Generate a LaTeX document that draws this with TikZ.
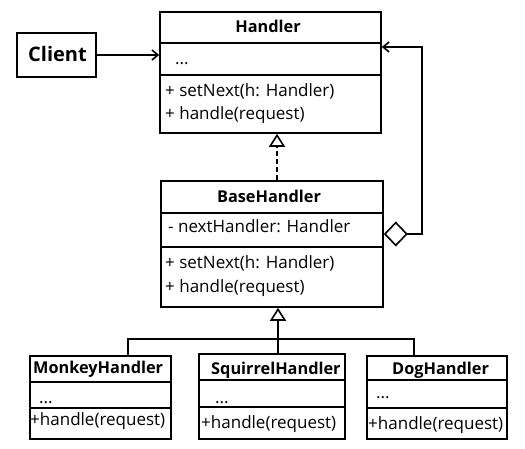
\documentclass[tikz,border=0pt]{standalone}
\usepackage{fontspec}
\setmainfont{Open Sans}
\usetikzlibrary{arrows.meta}
\begin{document}
\begin{tikzpicture}[x=1pt,y=-1pt,
  box/.style={draw, line width=1.6pt, rectangle, inner sep=0pt},
  div/.style={line width=1.6pt},
  conn/.style={line width=1.6pt},
  txt/.style={anchor=base west, inner sep=0pt, font=\fontsize{17}{20}\selectfont},
  ttl/.style={anchor=base, inner sep=0pt, font=\fontsize{16.3}{19}\selectfont\bfseries},
  gen/.style={-{Triangle[open,length=13pt,width=16pt,line width=1.6pt]}}
]
\useasboundingbox (0,0) rectangle (525,449);
% boxes
\node[box, minimum width=79pt, minimum height=44pt] (client) at (56.5,55) {};
\node[box, minimum width=221pt, minimum height=121pt] (handler) at (270.5,72.5) {};
\node[box, minimum width=222pt, minimum height=126pt] (base) at (272,244) {};
\node[box, minimum width=141pt, minimum height=83pt] (monkey) at (100.5,397.5) {};
\node[box, minimum width=146pt, minimum height=85pt] (squirrel) at (272,396.5) {};
\node[box, minimum width=140pt, minimum height=83pt] (dog) at (437,397.5) {};
% dividers
\draw[div] (handler.west |- 0,43) -- (handler.east |- 0,43);
\draw[div] (handler.west |- 0,75) -- (handler.east |- 0,75);
\draw[div] (base.west |- 0,213) -- (base.east |- 0,213);
\draw[div] (base.west |- 0,247) -- (base.east |- 0,247);
\draw[div] (monkey.west |- 0,382) -- (monkey.east |- 0,382);
\draw[div] (monkey.west |- 0,408) -- (monkey.east |- 0,408);
\draw[div] (squirrel.west |- 0,380) -- (squirrel.east |- 0,380);
\draw[div] (squirrel.west |- 0,407) -- (squirrel.east |- 0,407);
\draw[div] (dog.west |- 0,380) -- (dog.east |- 0,380);
\draw[div] (dog.west |- 0,408) -- (dog.east |- 0,408);
% texts
\node[ttl, font=\fontsize{20}{24}\selectfont\bfseries] (tclient) at (57.5,62) {Client};
\node[ttl] (thandler) at (268,33) {Handler};
\node[txt] (h1) at (175,65) {...};
\node[txt] (h2) at (165,97) {+ setNext(h: Handler)};
\node[txt] (h3) at (165,120) {+ handle(request)};
\node[ttl] (tbase) at (269,203) {BaseHandler};
\node[txt] (b1) at (168,233) {- nextHandler: Handler};
\node[txt] (b2) at (165,269) {+ setNext(h: Handler)};
\node[txt] (b3) at (165,292) {+ handle(request)};
\node[ttl, anchor=base west] (tmonkey) at (33,373) {MonkeyHandler};
\node[txt] (m1) at (39,403) {...};
\node[txt] (m2) at (30,425) {+handle(request)};
\node[ttl, anchor=base west] (tsquirrel) at (211,374) {SquirrelHandler};
\node[txt] (s1) at (215,403) {...};
\node[txt] (s2) at (201,428) {+handle(request)};
\node[ttl, anchor=base west] (tdog) at (392,374) {DogHandler};
\node[txt] (d1) at (376,398) {...};
\node[txt] (d2) at (368,429) {+handle(request)};
% connectors
\draw[conn, -{Straight Barb[length=6pt,width=10pt,line width=1.6pt]}] (client.east) -- (handler.west |- client.east);
\draw[conn, {Diamond[open,length=24pt,width=25pt,line width=1.6pt]}-{Straight Barb[length=6pt,width=10pt,line width=1.6pt]}] (base.east |- 0,234) -- (422,234) |- (handler.east |- 0,47);
\draw[conn, dashed, dash pattern=on 5pt off 3pt, gen] (base.north -| 277,0) -- (handler.south -| 277,0);
\coordinate (junc) at (278,339);
\draw[conn, gen] (squirrel.north -| 278,0) -- (base.south -| 278,0);
\draw[conn] (monkey.north -| 128,0) |- (junc);
\draw[conn] (dog.north -| 414,0) |- (junc);
\end{tikzpicture}
\end{document}
